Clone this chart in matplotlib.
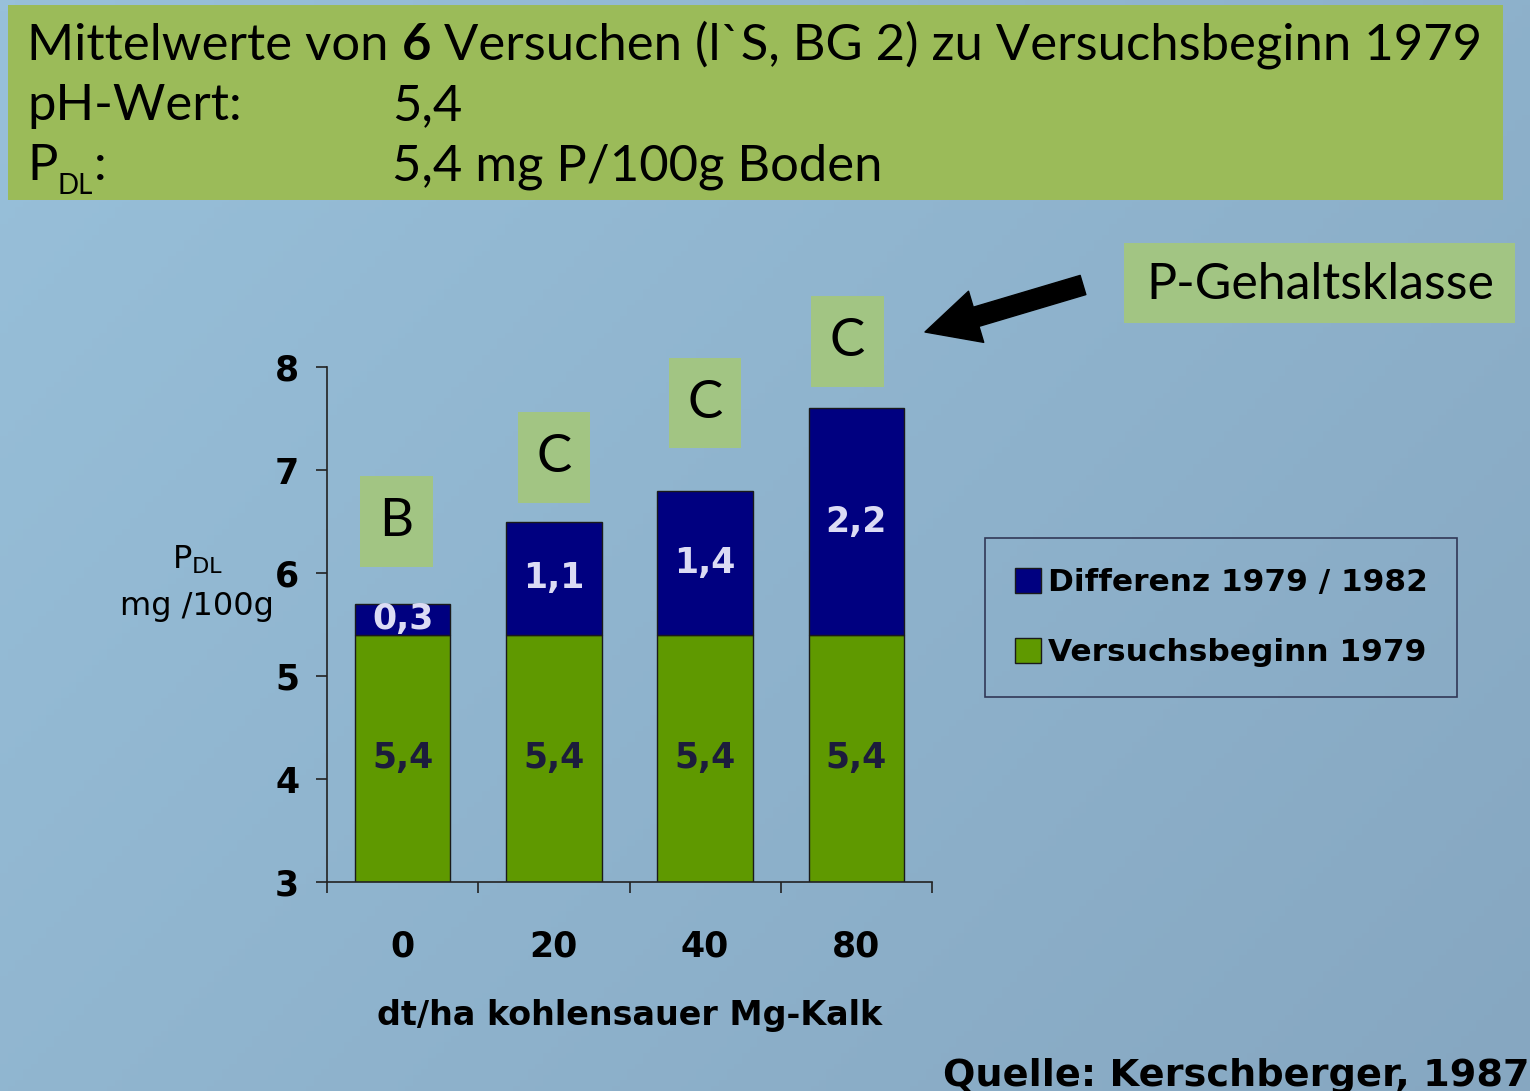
import numpy as np
import matplotlib.pyplot as plt
from matplotlib.patches import Rectangle, Patch
from matplotlib.colors import LinearSegmentedColormap

# data
doses = ["0", "20", "40", "80"]
start_1979 = [5.4, 5.4, 5.4, 5.4]
diff_1982 = [0.3, 1.1, 1.4, 2.2]
classes = ["B", "C", "C", "C"]
yticks = [3, 4, 5, 6, 7, 8]

# colours
green_bar = "#5f9900"
navy = "#000080"
box_green = "#a2c583"
head_green = "#9bbb59"

W, H = 1530, 1091
fx = lambda px: px / W
fy = lambda py: 1 - py / H

plt.rcParams["mathtext.fontset"] = "custom"
plt.rcParams["mathtext.rm"] = "DejaVu Sans"
TITLE_FONT = "Lato"
TS = 36.5

fig = plt.figure(figsize=(W / 100, H / 100), dpi=100)

# background
bg = fig.add_axes([0, 0, 1, 1])
bg.set_axis_off()
xx, yy = np.meshgrid(np.linspace(0, 1, 200), np.linspace(0, 1, 200))
grad = 0.6 * xx + 0.4 * yy
cmap = LinearSegmentedColormap.from_list("bgc", ["#98c0da", "#86a7c1"])
bg.imshow(grad, extent=[0, 1, 0, 1], origin="upper", cmap=cmap, aspect="auto")
bg.set_xlim(0, 1)
bg.set_ylim(0, 1)

# header block
bg.add_patch(Rectangle((fx(8), fy(200)), fx(1503) - fx(8), fy(5) - fy(200), color=head_green, lw=0))
t1 = bg.text(fx(27), fy(60), "Mittelwerte von ", family=TITLE_FONT, fontsize=TS, va="baseline")
t2 = bg.annotate("6", xy=(1, 0), xycoords=t1, va="bottom", family=TITLE_FONT, fontsize=TS, fontweight="bold")
bg.annotate(" Versuchen (l`S, BG 2) zu Versuchsbeginn 1979", xy=(1, 0), xycoords=t2, va="bottom",
            family=TITLE_FONT, fontsize=TS)
bg.text(fx(27), fy(120), "pH-Wert:", family=TITLE_FONT, fontsize=TS, va="baseline")
bg.text(fx(392), fy(120), "5,4", family=TITLE_FONT, fontsize=TS, va="baseline")
p1 = bg.text(fx(27), fy(180), "P", family=TITLE_FONT, fontsize=TS, va="baseline")
bg.annotate("DL", xy=(1, 0), xycoords=p1, xytext=(0, -7), textcoords="offset points",
            va="bottom", family=TITLE_FONT, fontsize=20)
bg.annotate(":", xy=(1, 0), xycoords=p1, xytext=(26, 0), textcoords="offset points",
            va="bottom", family=TITLE_FONT, fontsize=TS)
bg.text(fx(392), fy(180), "5,4 mg P/100g Boden", family=TITLE_FONT, fontsize=TS, va="baseline")

# P-Gehaltsklasse label + arrow
bg.add_patch(Rectangle((fx(1124), fy(323)), fx(1515) - fx(1124), fy(243) - fy(323), color=box_green, lw=0))
bg.text(fx(1320), fy(285), "P-Gehaltsklasse", family=TITLE_FONT, fontsize=36, ha="center", va="center")
bg.annotate("", xy=(fx(925), fy(332)), xytext=(fx(1083), fy(285)),
            arrowprops=dict(arrowstyle="simple,head_length=1.6,head_width=1.6,tail_width=0.6",
                            color="black", mutation_scale=24, shrinkA=0, shrinkB=0))

# source
bg.text(fx(943), fy(1086), "Quelle: Kerschberger, 1987", fontsize=27.5, fontweight="bold", va="baseline")

# y label
bg.text(fx(198), fy(560), r"P$_{\mathrm{DL}}$", fontsize=23, ha="center", va="center")
bg.text(fx(197), fy(607), "mg /100g", fontsize=23, ha="center", va="center")

# main chart
ax = fig.add_axes([fx(327), fy(882), fx(932) - fx(327), fy(367) - fy(882)])
ax.patch.set_alpha(0)
x = np.arange(len(doses))
ax.bar(x, start_1979, width=0.63, color=green_bar, edgecolor="#1a1a1a", lw=1, label="Versuchsbeginn 1979")
top = np.array(start_1979) + np.array(diff_1982)
ax.bar(x, diff_1982, bottom=start_1979, width=0.63, color=navy, edgecolor="#1a1a1a", lw=1,
       label="Differenz 1979 / 1982")
ax.set_xlim(-0.5, 3.5)
ax.set_ylim(3, 8)
for s in ["top", "right"]:
    ax.spines[s].set_visible(False)
for s in ["left", "bottom"]:
    ax.spines[s].set_color("#222222")
    ax.spines[s].set_linewidth(1.2)
ax.set_yticks(yticks)
ax.set_yticklabels([str(v) for v in yticks], fontsize=25, fontweight="bold")
ax.tick_params(axis="y", length=8, width=1.2, pad=12, color="#222222")
ax.set_xticks(x)
ax.set_xticklabels(doses, fontsize=25, fontweight="bold")
ax.set_xticks(np.arange(-0.5, 4, 1), minor=True)
ax.tick_params(axis="x", which="major", length=0, pad=34)
ax.tick_params(axis="x", which="minor", length=8, width=1.2, color="#222222")
ax.set_xlabel("dt/ha kohlensauer Mg-Kalk", fontsize=24, fontweight="bold", labelpad=26)

# value labels (centred in visible part of each segment)
y0 = ax.get_ylim()[0]
for i in x:
    ax.text(i, (max(0, y0) + start_1979[i]) / 2, f"{start_1979[i]:.1f}".replace(".", ","),
            ha="center", va="center", fontsize=25, fontweight="bold", color="#1c1c3c")
    ax.text(i, (start_1979[i] + top[i]) / 2, f"{diff_1982[i]:.1f}".replace(".", ","),
            ha="center", va="center", fontsize=25, fontweight="bold", color="#dcdcf4")

# class boxes above bars
cls_y = [6.5, 7.12, 7.65, 8.25]
cls_x = [-0.04, 0.0, 0.0, -0.06]
for i in x:
    ax.add_patch(Rectangle((i + cls_x[i] - 0.24, cls_y[i] - 0.44), 0.48, 0.88, color=box_green,
                           lw=0, clip_on=False))
    ax.text(i + cls_x[i], cls_y[i], classes[i], family=TITLE_FONT, fontsize=38, ha="center",
            va="center", clip_on=False)

# legend
handles = [Patch(facecolor=navy, edgecolor="#1a1a1a", label="Differenz 1979 / 1982"),
           Patch(facecolor=green_bar, edgecolor="#1a1a1a", label="Versuchsbeginn 1979")]
leg = fig.legend(handles=handles, loc="upper left", bbox_to_anchor=(fx(985), fy(538)),
                 frameon=True, fancybox=False, edgecolor="#1a1a3a",
                 prop=dict(size=22.5, weight="bold"), handlelength=0.85, handleheight=0.85,
                 handletextpad=0.2, labelspacing=1.3, borderpad=0.95, borderaxespad=0)
leg.get_frame().set_facecolor("none")
leg.get_frame().set_linewidth(1.2)

fig.savefig("out.png", dpi=100)
